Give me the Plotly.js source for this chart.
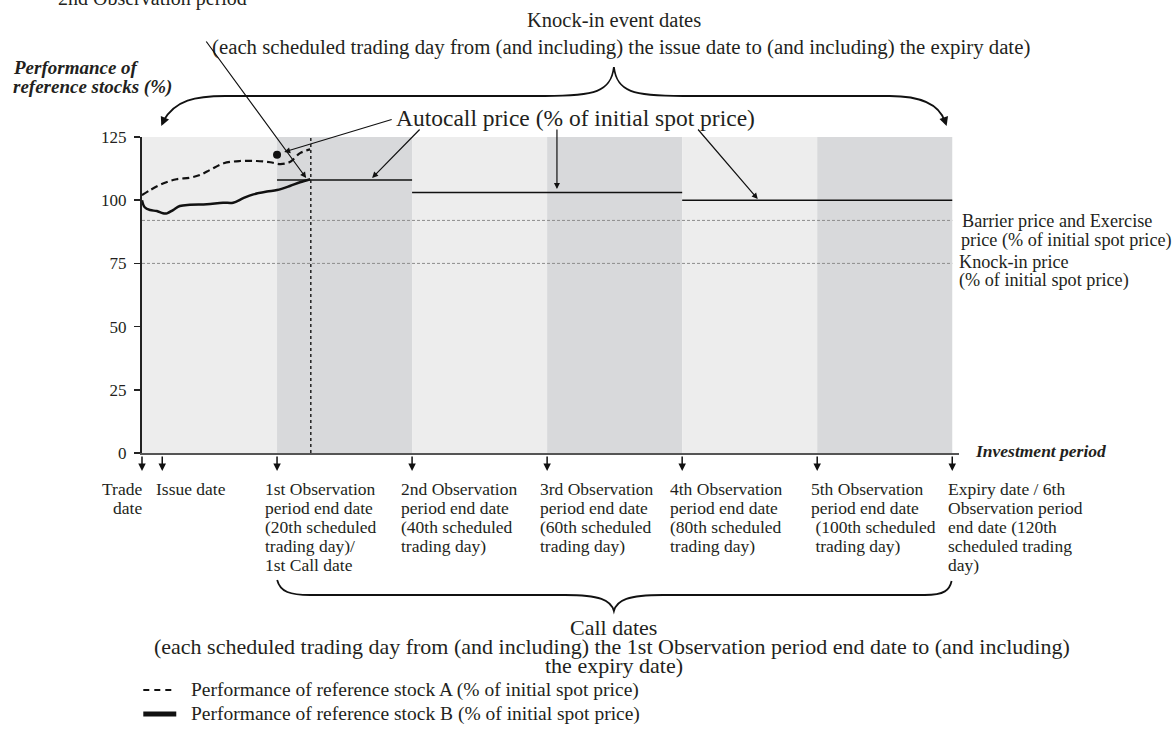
<!DOCTYPE html>
<html><head><meta charset="utf-8">
<script src="https://cdn.plot.ly/plotly-3.0.1.min.js"></script>
<style>html,body{margin:0;padding:0;background:#fff}</style>
</head><body>
<div id="chart" style="width:1175px;height:731px"></div>
<script>
// ---------------- data ----------------
const dateDays = [0, 3, 20, 40, 60, 80, 100, 120];
const dateLabelLines = [
  ["Trade", "date"],
  ["Issue date"],
  ["1st Observation", "period end date", "(20th scheduled", "trading day)/", "1st Call date"],
  ["2nd Observation", "period end date", "(40th scheduled", "trading day)"],
  ["3rd Observation", "period end date", "(60th scheduled", "trading day)"],
  ["4th Observation", "period end date", "(80th scheduled", "trading day)"],
  ["5th Observation", "period end date", "\u00a0(100th scheduled", "\u00a0trading day)"],
  ["Expiry date / 6th", "Observation period", "end date (120th", "scheduled trading", "day)"]
];
const periodBounds = [0, 20, 40, 60, 80, 100, 120];
const autocallFrom = [20, 40, 80];
const autocallTo = [40, 80, 120];
const autocallLevel = [108, 103, 100];
const barrierLevel = 92;
const knockInLevel = 75;
const observationDay = 25;
const stockADays = [0, 1.2, 3.2, 5.1, 7.1, 8.6, 10.1, 12.1, 14.5, 17, 19, 20.5, 21.9, 23.4, 24.9];
const stockAValues = [102, 104, 106.7, 108.3, 108.9, 110, 112, 114.6, 115.5, 115.5, 115, 114.3, 115.1, 118.6, 120.1];
const stockBDays = [0, 0.4, 1.2, 2.2, 3.1, 3.7, 4.6, 5.6, 7.1, 9.6, 12, 13.5, 15, 16.5, 18.5, 20, 21.9, 23.4, 24.9];
const stockBValues = [100, 97.2, 96.1, 95.7, 94.8, 94.8, 96.1, 97.7, 98.2, 98.4, 99, 99, 100.8, 102.3, 103.4, 104, 105.6, 107.1, 108.3];
const callPointDay = [20];
const callPointValue = [118];
const yTicks = [0, 25, 50, 75, 100, 125];
const seriesNames = ["Performance of reference stock A (% of initial spot price)",
                     "Performance of reference stock B (% of initial spot price)"];

// ---------------- geometry helpers ----------------
const X0 = 141.7, XW = 817.7, YT = 137, YB = 453, YH = YB - YT;
const PX = x => (x - X0) / XW;
const PY = y => (YB - y) / YH;
const dayPx = d => X0 + d * (XW / 121);
const FONT = "Liberation Serif, Times New Roman, serif";
const INK = "#231f20";

const traces = [];
// autocall levels
const acx = [], acy = [];
autocallLevel.forEach((lv, i) => { acx.push(autocallFrom[i], autocallTo[i], null); acy.push(lv, lv, null); });
traces.push({x: acx, y: acy, mode: "lines", line: {color: "#111", width: 1.5}, showlegend: false, hoverinfo: "skip"});
// barrier / knock-in
[barrierLevel, knockInLevel].forEach(lv => traces.push({
  x: [periodBounds[0], periodBounds[periodBounds.length - 1]], y: [lv, lv], mode: "lines",
  line: {color: "#8c8c8c", width: 1, dash: "3px,2px"}, showlegend: false, hoverinfo: "skip"}));
// observation dotted line
traces.push({x: [observationDay, observationDay], y: [0, 125], mode: "lines",
  line: {color: "#222", width: 1.5, dash: "dot"}, showlegend: false, hoverinfo: "skip"});
// stocks
traces.push({x: stockADays, y: stockAValues, mode: "lines", name: seriesNames[0],
  line: {color: "#111", width: 2.2, dash: "7px,4px", shape: "spline"}, showlegend: false});
traces.push({x: stockBDays, y: stockBValues, mode: "lines", name: seriesNames[1],
  line: {color: "#111", width: 2.5, shape: "spline"}, showlegend: false});
traces.push({x: callPointDay, y: callPointValue, mode: "markers",
  marker: {color: "#111", size: 8}, showlegend: false});

// ---------------- shapes ----------------
const shapes = [];
for (let i = 0; i < periodBounds.length - 1; i++) {
  shapes.push({type: "rect", xref: "x", yref: "y", layer: "below",
    x0: periodBounds[i], x1: periodBounds[i + 1], y0: 0, y1: 125,
    fillcolor: i % 2 === 0 ? "#ededed" : "#d8d9db", line: {width: 0}});
}
function pathPx(cmds) {
  return cmds.map(c => c[0] + c.slice(1).map((v, k) => (k % 2 === 0 ? PX(v) : PY(v)).toFixed(5)).join(",")).join(" ");
}
// top brace (knock-in event dates)
shapes.push({type: "path", xref: "paper", yref: "paper", line: {color: "#111", width: 1.8},
  path: pathPx([["M", 163, 121], ["C", 175, 100, 195, 96, 225, 96], ["L", 545, 96],
    ["C", 595, 96, 611, 92, 614, 67], ["C", 617, 92, 633, 96, 683, 96], ["L", 890, 96],
    ["C", 925, 96, 940, 106, 945, 121]])});
// bottom brace (call dates)
shapes.push({type: "path", xref: "paper", yref: "paper", line: {color: "#111", width: 1.8},
  path: pathPx([["M", 277, 580], ["C", 280, 592, 290, 595, 310, 595], ["L", 565, 595],
    ["C", 600, 595, 611, 600, 614, 611], ["C", 617, 600, 628, 595, 663, 595], ["L", 925, 595],
    ["C", 945, 595, 950, 590, 952, 581]])});
// manual legend samples
shapes.push({type: "line", xref: "paper", yref: "paper", x0: PX(143), x1: PX(176), y0: PY(690), y1: PY(690),
  line: {color: "#111", width: 2, dash: "6px,5px"}});
shapes.push({type: "line", xref: "paper", yref: "paper", x0: PX(143), x1: PX(176), y0: PY(714), y1: PY(714),
  line: {color: "#111", width: 5}});

// ---------------- annotations ----------------
const ann = [];
function txt(text, x, y, size, xanchor, extra) {
  ann.push(Object.assign({text: text, xref: "paper", yref: "paper", x: PX(x), y: PY(y),
    xanchor: xanchor || "center", yanchor: "middle", showarrow: false,
    font: {family: FONT, size: size, color: INK}}, extra || {}));
}
function arrow(hx, hy, tx, ty, w, head, size) {
  ann.push({text: "", xref: "paper", yref: "paper", x: PX(hx), y: PY(hy), ax: tx - hx, ay: ty - hy,
    axref: "pixel", ayref: "pixel", showarrow: true, arrowhead: head || 2, arrowsize: size || 1,
    arrowwidth: w || 1.2, arrowcolor: "#111", standoff: 0, startstandoff: 0});
}
// date arrows and labels
const labelLeft = [143.5, 153.3, 263.3, 398.5, 538.3, 668.3, 809.3, 946.7];
dateDays.forEach((d, i) => {
  arrow(dayPx(d), 471, dayPx(d), 455, 1.5, 2, 1);
  dateLabelLines[i].forEach((ln, k) => {
    txt(ln, labelLeft[i], 489 + 19 * k, 17.5, i === 0 ? "right" : "left", i === 0 ? {align: "right"} : {});
  });
});
// titles
txt("2nd Observation period", 152.5, -2, 20);
txt("Knock-in event dates", 614, 20, 20.5);
txt("(each scheduled trading day from (and including) the issue date to (and including) the expiry date)", 621, 47, 20.8);
txt("Autocall price (% of initial spot price)", 576, 118, 23.5);
txt("<b><i>Performance of</i></b>", 11, 68, 19, "left");
txt("<b><i>reference stocks (%)</i></b>", 11, 87, 19, "left");
txt("<b><i>Investment period</i></b>", 973, 451, 17.5, "left");
txt("Barrier price and Exercise", 960, 221, 18.2, "left");
txt("price (% of initial spot price)", 959, 240, 18.2, "left");
txt("Knock-in price", 957, 262, 18.2, "left");
txt("(% of initial spot price)", 957, 280, 18.2, "left");
txt("Call dates", 614, 627, 22);
txt("(each scheduled trading day from (and including) the 1st Observation period end date to (and including)", 612, 646, 22);
txt("the expiry date)", 614, 665, 22);
txt(seriesNames[0], 189, 690, 19.5, "left");
txt(seriesNames[1], 189, 714, 19.5, "left");
// pointer arrows
arrow(306, 178, 205, 40, 1.2, 2, 1);
arrow(284, 152, 393, 119, 1.2, 2, 1);
arrow(372, 178, 421, 128, 1.2, 2, 1);
arrow(557, 189, 557, 128, 1.2, 2, 1);
arrow(758, 199, 697, 128, 1.2, 2, 1);
// brace end arrowheads
arrow(161, 126, 165, 117, 1.8, 2, 1);
arrow(947, 126, 944, 117, 1.8, 2, 1);

const layout = {
  width: 1175, height: 731,
  margin: {l: X0, r: 1175 - X0 - XW, t: YT, b: 731 - YB, pad: 0},
  paper_bgcolor: "#fff", plot_bgcolor: "#fff",
  showlegend: false,
  xaxis: {range: [0, 121], showgrid: false, zeroline: false, showticklabels: false, ticks: "",
    showline: true, linecolor: "#555", linewidth: 2, fixedrange: true},
  yaxis: {range: [0, 125], tickvals: yTicks, ticks: "outside", ticklen: 6, tickwidth: 1.5, tickcolor: "#222",
    showline: true, linecolor: "#222", linewidth: 2, showgrid: false, zeroline: false, fixedrange: true,
    ticklabelstandoff: 4, tickfont: {family: FONT, size: 17, color: INK}},
  shapes: shapes,
  annotations: ann
};
Plotly.newPlot("chart", traces, layout, {displayModeBar: false, staticPlot: true});
</script>
</body></html>
